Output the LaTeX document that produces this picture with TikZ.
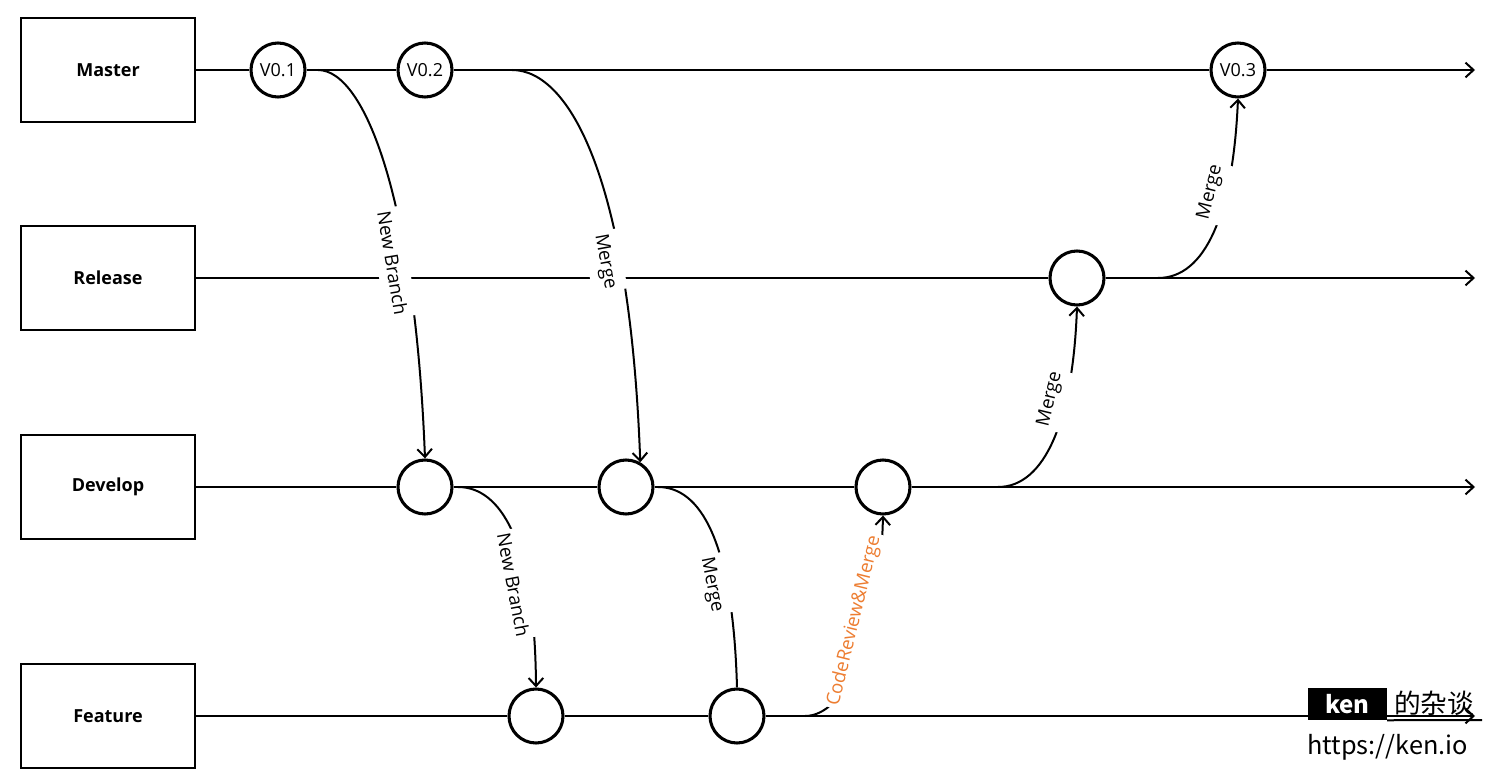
\documentclass[tikz,border=0pt]{standalone}
\usepackage{fontspec}
\setmainfont{Open Sans}
\newfontfamily\cjk{Noto Sans CJK SC}
\usetikzlibrary{arrows.meta}
\definecolor{cro}{HTML}{ED7D31}
\begin{document}
\begin{tikzpicture}[x=0.75pt,y=-0.75pt,
  lane/.style={draw, line width=1.5pt, minimum width=130.5pt, minimum height=78pt, inner sep=0pt, font=\bfseries\fontsize{13.5pt}{16pt}\selectfont},
  commit/.style={circle, draw, fill=white, line width=2.3pt, minimum size=40.5pt, inner sep=0pt, font=\fontsize{13.5pt}{16pt}\selectfont},
  track/.style={line width=1.5pt},
  flow/.style={line width=1.5pt},
  tip/.style={-{Straight Barb[length=6pt,width=11pt]}},
  lbl/.style={sloped, fill=white, inner xsep=2pt, inner ysep=6.5pt, outer sep=-1.5pt, font=\fontsize{14pt}{16pt}\selectfont},
  lbldown/.style={lbl, anchor=north},
  lblup/.style={lbl, anchor=south},
]
\fill[white] (0,0) rectangle (1500,780);
\useasboundingbox (0,0) rectangle (1500,780);

% lane boxes
\node[lane] (mbox) at (108,70) {Master};
\node[lane] (rbox) at (108,278) {Release};
\node[lane] (dbox) at (108,487) {Develop};
\node[lane] (fbox) at (108,716) {Feature};

% commits
\node[commit] (v01) at (278,70) {V0.1};
\node[commit] (v02) at (425,70) {V0.2};
\node[commit] (v03) at (1238,70) {V0.3};
\node[commit] (r1) at (1077,278) {};
\node[commit] (d1) at (425,487) {};
\node[commit] (d2) at (626,487) {};
\node[commit] (d3) at (883,487) {};
\node[commit] (f1) at (536,716) {};
\node[commit] (f2) at (737,716) {};

% line ends
\coordinate (mend) at (1475,70);
\coordinate (rend) at (1475,278);
\coordinate (dend) at (1475,487);
\coordinate (fend) at (1475,716);

% tracks
\draw[track] (mbox.east) -- (v01.west);
\draw[track] (v01.east) -- (v02.west);
\draw[track] (v02.east) -- (v03.west);
\draw[track,tip] (v03.east) -- (mend);
\draw[track] (rbox.east) -- (r1.west);
\draw[track,tip] (r1.east) -- (rend);
\draw[track] (dbox.east) -- (d1.west);
\draw[track] (d1.east) -- (d2.west);
\draw[track] (d2.east) -- (d3.west);
\draw[track,tip] (d3.east) -- (dend);
\draw[track] (fbox.east) -- (f1.west);
\draw[track] (f1.east) -- (f2.west);
\draw[track,tip] (f2.east) -- (fend);

% branch starts
\coordinate (s1) at (318,70);
\coordinate (s2) at (512,70);
\coordinate (s3) at (458,487);
\coordinate (s4) at (658,487);
\coordinate (s5) at (805,716);
\coordinate (s6) at (998,487);
\coordinate (s7) at (1158,278);

% flows
\draw[flow,tip] (s1) .. controls (365,70) and (415,200) .. (d1.north)
  node[lbldown, pos=0.7] {New Branch};
\draw[flow,tip] (s2) .. controls (570,70) and (630,180) .. (d2.60)
  node[lbldown, pos=0.71] {Merge};
\draw[flow,tip] (s3) .. controls (500,487) and (535,540) .. (f1.north)
  node[lbldown, pos=0.71] {New Branch};
\draw[flow] (s4) .. controls (700,487) and (733,540) .. (f2.north)
  node[lbldown, pos=0.71] {Merge};
\draw[flow,tip] (s5) .. controls (845,716) and (880,640) .. (d3.south)
  node[lblup, pos=0.66, text=cro] {CodeReview\&Merge};
\draw[flow,tip] (s6) .. controls (1045,487) and (1073,420) .. (r1.south)
  node[lblup, pos=0.67] {Merge};
\draw[flow,tip] (s7) .. controls (1205,278) and (1233,215) .. (v03.south)
  node[lblup, pos=0.67] {Merge};

% watermark
\node[fill=black, minimum width=59pt, minimum height=24pt, inner sep=0pt, text=white, font=\cjk\bfseries\fontsize{18pt}{20pt}\selectfont] (wmk) at (1347.5,704) {ken};
\node[anchor=west, inner sep=0pt, font=\cjk\fontsize{20pt}{22pt}\selectfont] (wmt) at (1394,703) {的杂谈};
\coordinate (ulend) at (1482,720);
\draw[line width=1.5pt] (wmk.south east) -- (ulend);
\node[anchor=west, inner sep=0pt, font=\cjk\fontsize{19pt}{22pt}\selectfont] (url) at (1307,747) {https://ken.io};
\end{tikzpicture}
\end{document}
